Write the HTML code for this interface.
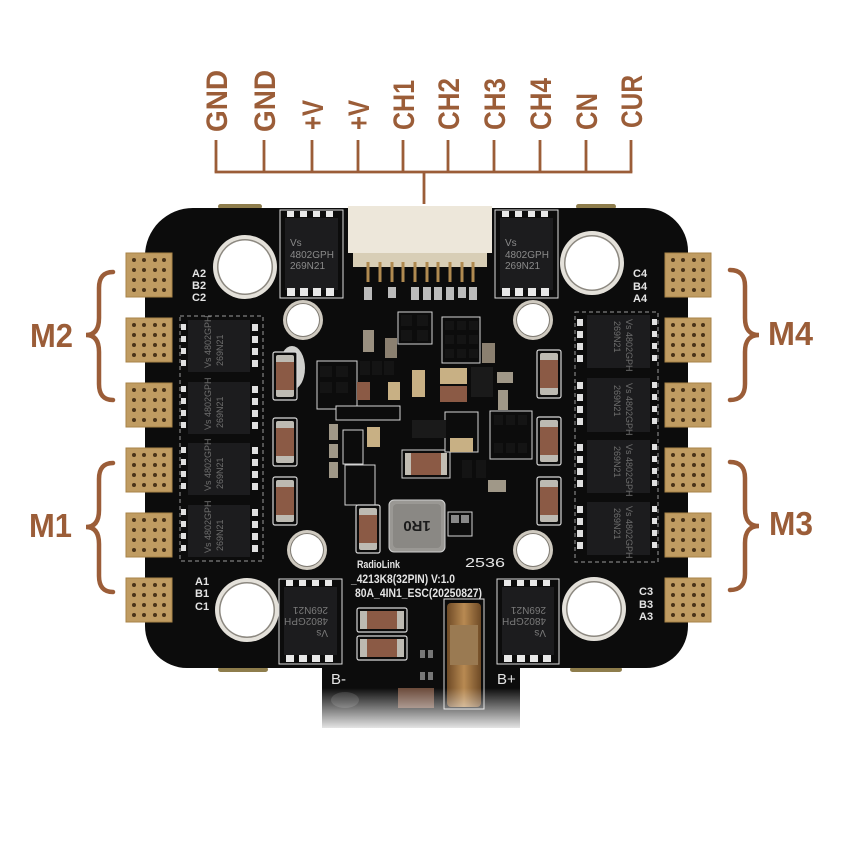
<!DOCTYPE html>
<html><head><meta charset="utf-8"><style>
html,body{margin:0;padding:0;background:#fff;}
svg{display:block}
</style></head><body>
<svg width="842" height="865" viewBox="0 0 842 865" xmlns="http://www.w3.org/2000/svg">
<defs>
 <linearGradient id="fade" x1="0" y1="0" x2="0" y2="1">
  <stop offset="0" stop-color="#fff" stop-opacity="0"/>
  <stop offset="1" stop-color="#fff" stop-opacity="1"/>
 </linearGradient>
 <linearGradient id="copper" x1="0" y1="0" x2="1" y2="0">
  <stop offset="0" stop-color="#6e4a26"/>
  <stop offset="0.5" stop-color="#b88a52"/>
  <stop offset="1" stop-color="#6e4a26"/>
 </linearGradient>
 <g id="pad">
  <rect x="0" y="0" width="46" height="44" fill="#c09c62"/>
  <rect x="0" y="0" width="46" height="44" fill="none" stroke="#a88348" stroke-width="1"/>
  <g fill="#4a3318">
   <circle cx="8" cy="7" r="2"/><circle cx="18" cy="7" r="2"/><circle cx="29" cy="7" r="2"/><circle cx="38" cy="7" r="2"/>
   <circle cx="8" cy="17" r="2"/><circle cx="18" cy="17" r="2"/><circle cx="29" cy="17" r="2"/><circle cx="38" cy="17" r="2"/>
   <circle cx="8" cy="27" r="2"/><circle cx="18" cy="27" r="2"/><circle cx="29" cy="27" r="2"/><circle cx="38" cy="27" r="2"/>
   <circle cx="8" cy="37" r="2"/><circle cx="18" cy="37" r="2"/><circle cx="29" cy="37" r="2"/><circle cx="38" cy="37" r="2"/>
  </g>
 </g>
 <g id="cap">
  <rect x="0" y="0" width="24" height="48" rx="2" fill="#0b0b0b" stroke="#d8d8d8" stroke-width="1.2"/>
  <rect x="3" y="3" width="18" height="42" rx="2" fill="#bdbab2"/>
  <rect x="3" y="10" width="18" height="28" fill="#8b5a45"/>
 </g>
 <g id="bigHole">
  <circle r="32" fill="#e4e1da"/>
  <circle r="28" fill="#8c8880"/>
  <circle r="26.5" fill="#fff"/>
 </g>
 <g id="smallHole">
  <circle r="20" fill="#cfcac0"/>
  <circle r="17" fill="#7e7a72"/>
  <circle r="16" fill="#fff"/>
 </g>
</defs>

<!-- top annotation -->
<g stroke="#9b5d38" stroke-width="2.8" fill="none">
 <path d="M216 140V172 M264 140V172 M312 140V172 M358 140V172 M403 140V172 M448 140V172 M494 140V172 M540 140V172 M586 140V172 M631 140V172"/>
 <path d="M214.6 172H632.4 M424 172V204"/>
</g>
<g font-family="Liberation Sans, sans-serif" font-weight="bold" font-size="30" fill="#9b5d38">
 <text transform="translate(227,132) rotate(-90)" textLength="62" lengthAdjust="spacingAndGlyphs">GND</text>
 <text transform="translate(275,132) rotate(-90)" textLength="62" lengthAdjust="spacingAndGlyphs">GND</text>
 <text transform="translate(323,130) rotate(-90)" textLength="30" lengthAdjust="spacingAndGlyphs">+V</text>
 <text transform="translate(369,130) rotate(-90)" textLength="30" lengthAdjust="spacingAndGlyphs">+V</text>
 <text transform="translate(414,130) rotate(-90)" textLength="50" lengthAdjust="spacingAndGlyphs">CH1</text>
 <text transform="translate(459,130) rotate(-90)" textLength="52" lengthAdjust="spacingAndGlyphs">CH2</text>
 <text transform="translate(505,130) rotate(-90)" textLength="52" lengthAdjust="spacingAndGlyphs">CH3</text>
 <text transform="translate(551,130) rotate(-90)" textLength="52" lengthAdjust="spacingAndGlyphs">CH4</text>
 <text transform="translate(597,130) rotate(-90)" textLength="37" lengthAdjust="spacingAndGlyphs">CN</text>
 <text transform="translate(642,128) rotate(-90)" textLength="53" lengthAdjust="spacingAndGlyphs">CUR</text>
</g>

<!-- braces -->
<g stroke="#9b5d38" stroke-width="4.5" fill="none" stroke-linecap="round">
 <path d="M113 272 Q99 272 99 288 V318 Q99 335 86 335 Q99 335 99 352 V384 Q99 400 113 400"/>
 <path d="M113 463 Q99 463 99 479 V510 Q99 527 86 527 Q99 527 99 544 V576 Q99 592 113 592"/>
 <path d="M730 270 Q745 270 745 286 V318 Q745 335 759 335 Q745 335 745 352 V384 Q745 400 730 400"/>
 <path d="M730 462 Q745 462 745 478 V509 Q745 526 759 526 Q745 526 745 543 V574 Q745 590 730 590"/>
</g>
<g font-family="Liberation Sans, sans-serif" font-weight="bold" font-size="33" fill="#9b5d38">
 <text x="30" y="347" textLength="43" lengthAdjust="spacingAndGlyphs">M2</text>
 <text x="29" y="537" textLength="43" lengthAdjust="spacingAndGlyphs">M1</text>
 <text x="768" y="345" textLength="45" lengthAdjust="spacingAndGlyphs">M4</text>
 <text x="769" y="535" textLength="44" lengthAdjust="spacingAndGlyphs">M3</text>
</g>

<!-- edge gold bits -->
<g fill="#8e7d4c">
 <rect x="218" y="204" width="44" height="5" rx="2.5"/>
 <rect x="576" y="204" width="40" height="5" rx="2.5"/>
 <rect x="218" y="667" width="50" height="5" rx="2.5"/>
 <rect x="570" y="667" width="52" height="5" rx="2.5"/>
</g>

<!-- board -->
<path d="M193 208 H645 A43 43 0 0 1 688 251 V626 A42 42 0 0 1 646 668 H520 V728 H322 V668 H187 A42 42 0 0 1 145 626 V256 A48 48 0 0 1 193 208 Z" fill="#0c0c0c"/>

<!-- pads -->
<use href="#pad" x="126" y="253"/>
<use href="#pad" x="126" y="318"/>
<use href="#pad" x="126" y="383"/>
<use href="#pad" x="126" y="448"/>
<use href="#pad" x="126" y="513"/>
<use href="#pad" x="126" y="578"/>
<use href="#pad" x="665" y="253"/>
<use href="#pad" x="665" y="318"/>
<use href="#pad" x="665" y="383"/>
<use href="#pad" x="665" y="448"/>
<use href="#pad" x="665" y="513"/>
<use href="#pad" x="665" y="578"/>

<!-- holes -->
<use href="#bigHole" x="245" y="267"/>
<use href="#bigHole" x="592" y="263"/>
<use href="#bigHole" x="247" y="610"/>
<use href="#bigHole" x="594" y="609"/>
<use href="#smallHole" x="303" y="320"/>
<use href="#smallHole" x="533" y="320"/>
<use href="#smallHole" x="307" y="550"/>
<use href="#smallHole" x="533" y="550"/>

<!-- connector -->
<rect x="348" y="206" width="144" height="47" fill="#ede7da"/>
<rect x="353" y="253" width="134" height="14" fill="#d8ceb6"/>
<g stroke="#b08a50" stroke-width="3">
 <path d="M368 262V282 M380 262V282 M392 262V282 M403 262V282 M415 262V282 M427 262V282 M438 262V282 M450 262V282 M462 262V282 M473 262V282"/>
</g>
<g fill="#bbb">
 <rect x="364" y="287" width="8" height="13"/><rect x="388" y="287" width="8" height="11"/>
 <rect x="411" y="287" width="8" height="13"/><rect x="423" y="287" width="8" height="13"/><rect x="434" y="287" width="8" height="13"/><rect x="446" y="287" width="8" height="13"/><rect x="458" y="287" width="8" height="11"/><rect x="469" y="287" width="8" height="13"/>
</g>

<!-- top chips -->
<g>
 <rect x="280" y="210" width="63" height="88" fill="none" stroke="#ddd" stroke-width="1"/>
 <rect x="285" y="218" width="53" height="72" fill="#1c1c1e"/>
 <g fill="#e8e8e8"><rect x="287" y="211" width="7" height="6"/><rect x="300" y="211" width="7" height="6"/><rect x="313" y="211" width="7" height="6"/><rect x="326" y="211" width="7" height="6"/>
 <rect x="287" y="288" width="8" height="8"/><rect x="300" y="288" width="8" height="8"/><rect x="313" y="288" width="8" height="8"/><rect x="326" y="288" width="8" height="8"/></g>
 <g font-family="Liberation Sans, sans-serif" font-size="10" fill="#8a8a8a"><text x="290" y="246">Vs</text><text x="290" y="258">4802GPH</text><text x="290" y="269">269N21</text></g>
</g>
<g>
 <rect x="495" y="210" width="63" height="88" fill="none" stroke="#ddd" stroke-width="1"/>
 <rect x="500" y="218" width="53" height="72" fill="#1c1c1e"/>
 <g fill="#e8e8e8"><rect x="502" y="211" width="7" height="6"/><rect x="515" y="211" width="7" height="6"/><rect x="528" y="211" width="7" height="6"/><rect x="541" y="211" width="7" height="6"/>
 <rect x="502" y="288" width="8" height="8"/><rect x="515" y="288" width="8" height="8"/><rect x="528" y="288" width="8" height="8"/><rect x="541" y="288" width="8" height="8"/></g>
 <g font-family="Liberation Sans, sans-serif" font-size="10" fill="#8a8a8a"><text x="505" y="246">Vs</text><text x="505" y="258">4802GPH</text><text x="505" y="269">269N21</text></g>
</g>

<!-- bottom chips -->
<g>
 <rect x="279" y="579" width="63" height="85" fill="none" stroke="#ddd" stroke-width="1"/>
 <rect x="284" y="587" width="53" height="68" fill="#1c1c1e"/>
 <g fill="#e8e8e8"><rect x="286" y="580" width="7" height="6"/><rect x="299" y="580" width="7" height="6"/><rect x="312" y="580" width="7" height="6"/><rect x="325" y="580" width="7" height="6"/>
 <rect x="286" y="655" width="8" height="7"/><rect x="299" y="655" width="8" height="7"/><rect x="312" y="655" width="8" height="7"/><rect x="325" y="655" width="8" height="7"/></g>
 <g font-family="Liberation Sans, sans-serif" font-size="10" fill="#7a7a7a" transform="rotate(180 310 621)"><text x="292" y="612">Vs</text><text x="292" y="624">4802GPH</text><text x="292" y="635">269N21</text></g>
</g>
<g>
 <rect x="497" y="579" width="62" height="85" fill="none" stroke="#ddd" stroke-width="1"/>
 <rect x="502" y="587" width="52" height="68" fill="#1c1c1e"/>
 <g fill="#e8e8e8"><rect x="504" y="580" width="7" height="6"/><rect x="517" y="580" width="7" height="6"/><rect x="530" y="580" width="7" height="6"/><rect x="543" y="580" width="7" height="6"/>
 <rect x="504" y="655" width="8" height="7"/><rect x="517" y="655" width="8" height="7"/><rect x="530" y="655" width="8" height="7"/><rect x="543" y="655" width="8" height="7"/></g>
 <g font-family="Liberation Sans, sans-serif" font-size="10" fill="#7a7a7a" transform="rotate(180 528 621)"><text x="510" y="612">Vs</text><text x="510" y="624">4802GPH</text><text x="510" y="635">269N21</text></g>
</g>

<!-- left column chips -->
<g>
 <rect x="180" y="316" width="83" height="245" fill="none" stroke="#9a9a9a" stroke-width="1" stroke-dasharray="4 3"/>
 <g fill="#1c1c1e">
  <rect x="188" y="320" width="62" height="52"/><rect x="188" y="382" width="62" height="52"/><rect x="188" y="443" width="62" height="52"/><rect x="188" y="505" width="62" height="52"/>
 </g>
 <g fill="#e0e0e0">
  <rect x="181" y="324" width="5" height="6"/><rect x="181" y="336" width="5" height="6"/><rect x="181" y="348" width="5" height="6"/><rect x="181" y="360" width="5" height="6"/>
  <rect x="181" y="386" width="5" height="6"/><rect x="181" y="398" width="5" height="6"/><rect x="181" y="410" width="5" height="6"/><rect x="181" y="422" width="5" height="6"/>
  <rect x="181" y="447" width="5" height="6"/><rect x="181" y="459" width="5" height="6"/><rect x="181" y="471" width="5" height="6"/><rect x="181" y="483" width="5" height="6"/>
  <rect x="181" y="509" width="5" height="6"/><rect x="181" y="521" width="5" height="6"/><rect x="181" y="533" width="5" height="6"/><rect x="181" y="545" width="5" height="6"/>
  <rect x="252" y="324" width="6" height="7"/><rect x="252" y="336" width="6" height="7"/><rect x="252" y="348" width="6" height="7"/><rect x="252" y="360" width="6" height="7"/>
  <rect x="252" y="386" width="6" height="7"/><rect x="252" y="398" width="6" height="7"/><rect x="252" y="410" width="6" height="7"/><rect x="252" y="422" width="6" height="7"/>
  <rect x="252" y="447" width="6" height="7"/><rect x="252" y="459" width="6" height="7"/><rect x="252" y="471" width="6" height="7"/><rect x="252" y="483" width="6" height="7"/>
  <rect x="252" y="509" width="6" height="7"/><rect x="252" y="521" width="6" height="7"/><rect x="252" y="533" width="6" height="7"/><rect x="252" y="545" width="6" height="7"/>
 </g>
 <g font-family="Liberation Sans, sans-serif" font-size="9" fill="#6e6e6e">
  <g transform="translate(219,346) rotate(-90)"><text x="-22" y="-8">Vs 4802GPH</text><text x="-20" y="4">269N21</text></g>
  <g transform="translate(219,408) rotate(-90)"><text x="-22" y="-8">Vs 4802GPH</text><text x="-20" y="4">269N21</text></g>
  <g transform="translate(219,469) rotate(-90)"><text x="-22" y="-8">Vs 4802GPH</text><text x="-20" y="4">269N21</text></g>
  <g transform="translate(219,531) rotate(-90)"><text x="-22" y="-8">Vs 4802GPH</text><text x="-20" y="4">269N21</text></g>
 </g>
</g>

<!-- right column chips -->
<g>
 <rect x="575" y="312" width="83" height="250" fill="none" stroke="#9a9a9a" stroke-width="1" stroke-dasharray="4 3"/>
 <g fill="#1c1c1e">
  <rect x="587" y="315" width="63" height="53"/><rect x="587" y="378" width="63" height="54"/><rect x="587" y="440" width="63" height="53"/><rect x="587" y="502" width="63" height="53"/>
 </g>
 <g fill="#e0e0e0">
  <rect x="577" y="319" width="6" height="7"/><rect x="577" y="331" width="6" height="7"/><rect x="577" y="343" width="6" height="7"/><rect x="577" y="355" width="6" height="7"/>
  <rect x="577" y="382" width="6" height="7"/><rect x="577" y="394" width="6" height="7"/><rect x="577" y="406" width="6" height="7"/><rect x="577" y="418" width="6" height="7"/>
  <rect x="577" y="444" width="6" height="7"/><rect x="577" y="456" width="6" height="7"/><rect x="577" y="468" width="6" height="7"/><rect x="577" y="480" width="6" height="7"/>
  <rect x="577" y="506" width="6" height="7"/><rect x="577" y="518" width="6" height="7"/><rect x="577" y="530" width="6" height="7"/><rect x="577" y="542" width="6" height="7"/>
  <rect x="652" y="319" width="5" height="6"/><rect x="652" y="331" width="5" height="6"/><rect x="652" y="343" width="5" height="6"/><rect x="652" y="355" width="5" height="6"/>
  <rect x="652" y="382" width="5" height="6"/><rect x="652" y="394" width="5" height="6"/><rect x="652" y="406" width="5" height="6"/><rect x="652" y="418" width="5" height="6"/>
  <rect x="652" y="444" width="5" height="6"/><rect x="652" y="456" width="5" height="6"/><rect x="652" y="468" width="5" height="6"/><rect x="652" y="480" width="5" height="6"/>
  <rect x="652" y="506" width="5" height="6"/><rect x="652" y="518" width="5" height="6"/><rect x="652" y="530" width="5" height="6"/><rect x="652" y="542" width="5" height="6"/>
 </g>
 <g font-family="Liberation Sans, sans-serif" font-size="9" fill="#6e6e6e">
  <g transform="translate(618,341) rotate(90)"><text x="-22" y="-8">Vs 4802GPH</text><text x="-20" y="4">269N21</text></g>
  <g transform="translate(618,405) rotate(90)"><text x="-22" y="-8">Vs 4802GPH</text><text x="-20" y="4">269N21</text></g>
  <g transform="translate(618,466) rotate(90)"><text x="-22" y="-8">Vs 4802GPH</text><text x="-20" y="4">269N21</text></g>
  <g transform="translate(618,528) rotate(90)"><text x="-22" y="-8">Vs 4802GPH</text><text x="-20" y="4">269N21</text></g>
 </g>
</g>

<!-- side caps -->
<ellipse cx="292" cy="368" rx="13" ry="22" fill="#cfcfcc"/>
<use href="#cap" x="273" y="352"/>
<use href="#cap" x="273" y="418"/>
<use href="#cap" x="273" y="477"/>
<use href="#cap" x="537" y="350"/>
<use href="#cap" x="537" y="417"/>
<use href="#cap" x="537" y="477"/>

<!-- center components -->
<g stroke="#d4d4d4" stroke-width="1">
 <rect x="398" y="312" width="34" height="32" fill="#0c0c0c"/>
 <rect x="442" y="317" width="38" height="46" fill="#0c0c0c"/>
 <rect x="317" y="361" width="40" height="48" fill="#0c0c0c"/>
 <rect x="490" y="411" width="42" height="48" fill="#0c0c0c"/>
 <rect x="336" y="406" width="64" height="14" fill="#0c0c0c"/>
 <rect x="343" y="430" width="20" height="34" fill="#0c0c0c"/>
 <rect x="402" y="450" width="48" height="28" fill="#0c0c0c"/>
 <rect x="345" y="465" width="30" height="40" fill="#0c0c0c"/>
 <rect x="445" y="412" width="33" height="40" fill="#0c0c0c"/>
</g>
<g fill="#141414">
 <rect x="401" y="315" width="11" height="11"/><rect x="417" y="315" width="11" height="11"/><rect x="401" y="330" width="11" height="11"/><rect x="417" y="330" width="11" height="11"/>
 <rect x="445" y="321" width="9" height="9"/><rect x="457" y="321" width="9" height="9"/><rect x="469" y="321" width="9" height="9"/>
 <rect x="445" y="335" width="9" height="9"/><rect x="457" y="335" width="9" height="9"/><rect x="469" y="335" width="9" height="9"/>
 <rect x="445" y="349" width="9" height="9"/><rect x="457" y="349" width="9" height="9"/><rect x="469" y="349" width="9" height="9"/>
 <rect x="360" y="361" width="10" height="14"/><rect x="372" y="361" width="10" height="14"/><rect x="384" y="361" width="10" height="14"/>
 <rect x="412" y="420" width="34" height="18" fill="#1a1a1a"/>
 <rect x="471" y="367" width="22" height="30" fill="#1a1a1a"/>
 <rect x="462" y="460" width="10" height="18"/><rect x="476" y="460" width="10" height="18"/>
 <rect x="320" y="366" width="12" height="11"/><rect x="336" y="366" width="12" height="11"/><rect x="320" y="382" width="12" height="11"/><rect x="336" y="382" width="12" height="11"/>
 <rect x="494" y="415" width="9" height="10"/><rect x="506" y="415" width="9" height="10"/><rect x="518" y="415" width="9" height="10"/>
 <rect x="494" y="443" width="9" height="10"/><rect x="506" y="443" width="9" height="10"/><rect x="518" y="443" width="9" height="10"/>
</g>
<g>
 <rect x="363" y="330" width="11" height="22" fill="#9a9080"/>
 <rect x="385" y="338" width="12" height="20" fill="#8b8070"/>
 <rect x="482" y="343" width="13" height="20" fill="#8b8070"/>
 <rect x="357" y="382" width="13" height="18" fill="#8b5a45"/>
 <rect x="388" y="382" width="12" height="18" fill="#c8b084"/>
 <rect x="412" y="370" width="13" height="27" fill="#c8b084"/>
 <rect x="440" y="368" width="27" height="16" fill="#c8b084"/>
 <rect x="440" y="386" width="27" height="16" fill="#8b5a45"/>
 <rect x="497" y="372" width="16" height="11" fill="#a09888"/>
 <rect x="498" y="390" width="10" height="20" fill="#a09888"/>
 <rect x="367" y="427" width="13" height="20" fill="#c8b084"/>
 <rect x="450" y="438" width="23" height="14" fill="#c8b084"/>
 <rect x="329" y="424" width="9" height="16" fill="#a09888"/>
 <rect x="329" y="444" width="9" height="14" fill="#a09888"/>
 <rect x="329" y="462" width="9" height="16" fill="#a09888"/>
 <rect x="488" y="480" width="18" height="12" fill="#a09888"/>
 <rect x="405" y="453" width="42" height="22" rx="2" fill="#8b5a45"/>
 <rect x="405" y="453" width="6" height="22" fill="#c2bdb3"/>
 <rect x="441" y="453" width="6" height="22" fill="#c2bdb3"/>
</g>
<!-- inductor -->
<rect x="389" y="500" width="56" height="52" rx="5" fill="#9a9894" stroke="#d0d0d0" stroke-width="1"/>
<rect x="393" y="504" width="48" height="44" rx="4" fill="#8a8884"/>
<text x="417" y="533" font-family="Liberation Sans, sans-serif" font-size="15" font-weight="bold" fill="#1b1b1b" text-anchor="middle" transform="rotate(180 417 527)">1R0</text>
<use href="#cap" x="356" y="505"/>
<g stroke="#d4d4d4" stroke-width="1" fill="#0c0c0c"><rect x="448" y="512" width="24" height="24"/></g>
<g fill="#888"><rect x="451" y="515" width="8" height="8"/><rect x="461" y="515" width="8" height="8"/></g>

<!-- silkscreen text -->
<g font-family="Liberation Sans, sans-serif" font-weight="bold" fill="#e4e4e4">
 <text x="357" y="568" font-size="11" textLength="43" lengthAdjust="spacingAndGlyphs">RadioLink</text>
 <text x="351" y="583" font-size="12" textLength="104" lengthAdjust="spacingAndGlyphs">_4213K8(32PIN)  V:1.0</text>
 <text x="355" y="597" font-size="12" textLength="127" lengthAdjust="spacingAndGlyphs">80A_4IN1_ESC(20250827)</text>
 <text x="465" y="567" font-size="13" font-weight="normal" textLength="40" lengthAdjust="spacingAndGlyphs">2536</text>
 <text x="331" y="684" font-size="15" font-weight="normal">B-</text>
 <text x="497" y="684" font-size="15" font-weight="normal">B+</text>
 <g font-size="11">
  <text x="192" y="277">A2</text><text x="192" y="289">B2</text><text x="192" y="301">C2</text>
  <text x="195" y="585">A1</text><text x="195" y="597">B1</text><text x="195" y="610">C1</text>
  <text x="633" y="277">C4</text><text x="633" y="290">B4</text><text x="633" y="302">A4</text>
  <text x="639" y="595">C3</text><text x="639" y="608">B3</text><text x="639" y="620">A3</text>
 </g>
</g>

<!-- bottom tab components -->
<g>
 <rect x="357" y="608" width="50" height="24" rx="2" fill="#0b0b0b" stroke="#d8d8d8" stroke-width="1.2"/>
 <rect x="360" y="611" width="44" height="18" fill="#bdbab2"/>
 <rect x="367" y="611" width="30" height="18" fill="#8b5a45"/>
 <rect x="357" y="636" width="50" height="24" rx="2" fill="#0b0b0b" stroke="#d8d8d8" stroke-width="1.2"/>
 <rect x="360" y="639" width="44" height="18" fill="#bdbab2"/>
 <rect x="367" y="639" width="30" height="18" fill="#8b5a45"/>
</g>
<rect x="444" y="599" width="40" height="110" fill="#0b0b0b" stroke="#d8d8d8" stroke-width="1"/>
<rect x="447" y="603" width="34" height="104" rx="4" fill="url(#copper)"/>
<rect x="450" y="625" width="28" height="40" fill="#9a7a52"/>
<g fill="#777"><rect x="420" y="650" width="5" height="8"/><rect x="428" y="650" width="5" height="8"/><rect x="420" y="672" width="5" height="8"/><rect x="428" y="672" width="5" height="8"/></g>
<rect x="398" y="688" width="36" height="20" fill="#6b4a3a"/>
<ellipse cx="345" cy="700" rx="14" ry="8" fill="#2a2a2a"/>

<!-- fade -->
<rect x="316" y="688" width="212" height="45" fill="url(#fade)"/>
</svg>
</body></html>
